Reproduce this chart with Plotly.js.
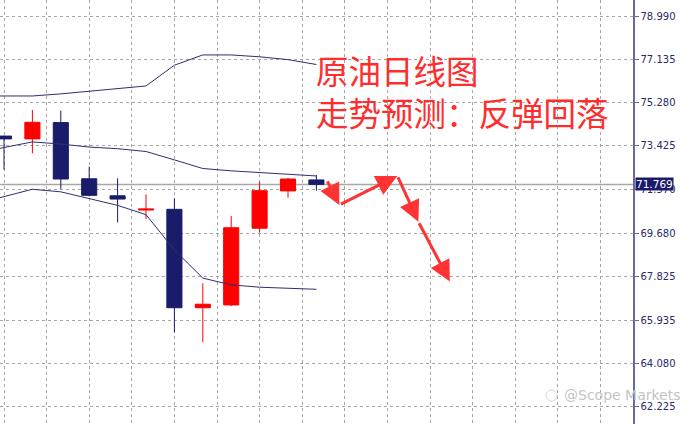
<!DOCTYPE html>
<html>
<head>
<meta charset="utf-8">
<script src="https://cdn.plot.ly/plotly-3.0.1.min.js"></script>
<style>
  html, body { margin: 0; padding: 0; background: #ffffff; }
  #chart { width: 692px; height: 424px; }
</style>
</head>
<body>
<div id="chart"></div>
<script>
// Candle index (daily bars)
const candleIdx = [0, 1, 2, 3, 4, 5, 6, 7, 8, 9, 10, 11];
const openVals  = [73.84, 73.72, 74.42, 72.01, 71.28, 70.67, 70.70, 66.48, 66.60, 69.89, 71.49, 71.96];
const highVals  = [73.86, 74.96, 74.93, 72.53, 72.03, 71.34, 71.17, 67.53, 70.41, 71.88, 72.04, 72.17];
const lowVals   = [72.40, 73.10, 71.56, 71.25, 70.14, 70.29, 65.43, 65.00, 66.55, 69.70, 71.20, 71.50];
const closeVals = [73.72, 74.43, 72.00, 71.30, 71.14, 70.71, 66.48, 66.63, 69.91, 71.50, 72.00, 71.769];

// Band lines (upper / middle / lower)
const bandIdx   = [-1, 0, 1, 2, 3, 4, 5, 6, 7, 8, 9, 10, 11];
const bandUpper = [75.56, 75.56, 75.56, 75.65, 75.77, 75.88, 75.99, 76.88, 77.32, 77.32, 77.24, 77.12, 76.91];
const bandMid   = [73.11, 73.34, 73.59, 73.50, 73.37, 73.30, 73.18, 72.82, 72.45, 72.35, 72.27, 72.20, 72.13];
const bandLower = [70.93, 71.24, 71.56, 71.45, 71.16, 70.87, 70.47, 68.96, 67.75, 67.46, 67.36, 67.31, 67.27];

// Forecast path (rebound then fall)
const forecastX = [11.36, 11.81, 13.85, 14.59, 15.70];
const forecastY = [71.96, 70.89, 72.13, 70.17, 67.60];

// Price axis ticks
const tickVals = [78.990, 77.135, 75.280, 73.425, 71.570, 69.680, 67.825, 65.935, 64.080, 62.225];
const tickText = ["78.990", "77.135", "75.280", "73.425", "71.570", "69.680", "67.825", "65.935", "64.080", "62.225"];
const lastPrice = 71.769;
const lastPriceText = "71.769";
const vGrid = [0, 1.5, 3, 4.5, 6, 7.5, 9, 10.5, 12, 13.5, 15, 16.5, 18, 19.5, 21];

const titleLines = ["原油日线图", "走势预测：反弹回落"];
const watermark = "@Scope Markets";

const navy = "#1b1b6b";
const red = "#ff0000";

const traces = [
  { x: bandIdx, y: bandUpper, type: "scatter", mode: "lines",
    line: { color: "#2e2e70", width: 1 }, hoverinfo: "skip", showlegend: false },
  { x: bandIdx, y: bandMid, type: "scatter", mode: "lines",
    line: { color: "#2e2e70", width: 1 }, hoverinfo: "skip", showlegend: false },
  { x: bandIdx, y: bandLower, type: "scatter", mode: "lines",
    line: { color: "#2e2e70", width: 1 }, hoverinfo: "skip", showlegend: false },
  { x: candleIdx, open: openVals, high: highVals, low: lowVals, close: closeVals,
    type: "candlestick", whiskerwidth: 0,
    increasing: { line: { color: red, width: 1 }, fillcolor: red },
    decreasing: { line: { color: navy, width: 1 }, fillcolor: navy },
    showlegend: false, hoverinfo: "skip" }
];

const annotations = [];
for (let i = 0; i < forecastX.length - 1; i++) {
  annotations.push({
    x: forecastX[i + 1], y: forecastY[i + 1], xref: "x", yref: "y",
    ax: forecastX[i], ay: forecastY[i], axref: "x", ayref: "y",
    text: "", showarrow: true, arrowhead: 2, arrowsize: 1.4, arrowwidth: 3,
    arrowcolor: "#ff3333", standoff: 0, startstandoff: 0
  });
}
annotations.push({
  text: titleLines.join("<br>"), xref: "paper", yref: "paper", x: 314 / 633, y: 1 - 90 / 424,
  xanchor: "left", yanchor: "middle", align: "left", showarrow: false,
  font: { family: "Noto Sans CJK SC", size: 32.5, color: "#ff2d2d" }
});
annotations.push({
  text: lastPriceText, xref: "paper", yref: "y", x: 1, y: lastPrice,
  xanchor: "left", yanchor: "middle", xshift: 2, showarrow: false,
  bgcolor: navy, borderpad: 0,
  font: { family: "DejaVu Sans", size: 10.5, color: "#ffffff" }
});
annotations.push({
  text: watermark, xref: "paper", yref: "paper", x: 562 / 633, y: 1 - 395 / 424,
  xanchor: "left", yanchor: "middle", showarrow: false,
  font: { family: "DejaVu Sans", size: 14, color: "#c4c4c4" }
});

const layout = {
  width: 692, height: 424,
  margin: { l: 0, r: 59, t: 0, b: 0, pad: 0 },
  paper_bgcolor: "#ffffff", plot_bgcolor: "#ffffff",
  boxgap: 0.24,
  showlegend: false,
  xaxis: {
    range: [-4 / 28.4, 629 / 28.4], rangeslider: { visible: false },
    tickvals: vGrid, showticklabels: false, ticks: "",
    showgrid: true, gridcolor: "#a6a6a6", griddash: "3px,3px", gridwidth: 1,
    zeroline: false, showline: false, fixedrange: true
  },
  yaxis: {
    range: [61.494, 79.676], side: "right",
    tickvals: tickVals, ticktext: tickText,
    ticks: "outside", ticklen: 4, tickcolor: "#6a6a9a", tickwidth: 1,
    tickfont: { family: "DejaVu Sans", size: 10, color: "#2a2a6a" },
    showgrid: true, gridcolor: "#a6a6a6", griddash: "3px,3px", gridwidth: 1,
    zeroline: false, showline: true, linecolor: "#6a6a9a", linewidth: 1.5,
    fixedrange: true
  },
  shapes: [
    { type: "line", xref: "paper", yref: "y", x0: 0, x1: 1, y0: lastPrice, y1: lastPrice,
      line: { color: "#a8a8a8", width: 1.5 }, layer: "below" },
    { type: "circle", xref: "paper", yref: "paper",
      x0: 546 / 633, x1: 557 / 633, y0: 1 - 401 / 424, y1: 1 - 390 / 424,
      line: { color: "#d6d6d6", width: 1 } }
  ],
  annotations: annotations
};

Plotly.newPlot("chart", traces, layout, { displayModeBar: false, staticPlot: true });
</script>
</body>
</html>
